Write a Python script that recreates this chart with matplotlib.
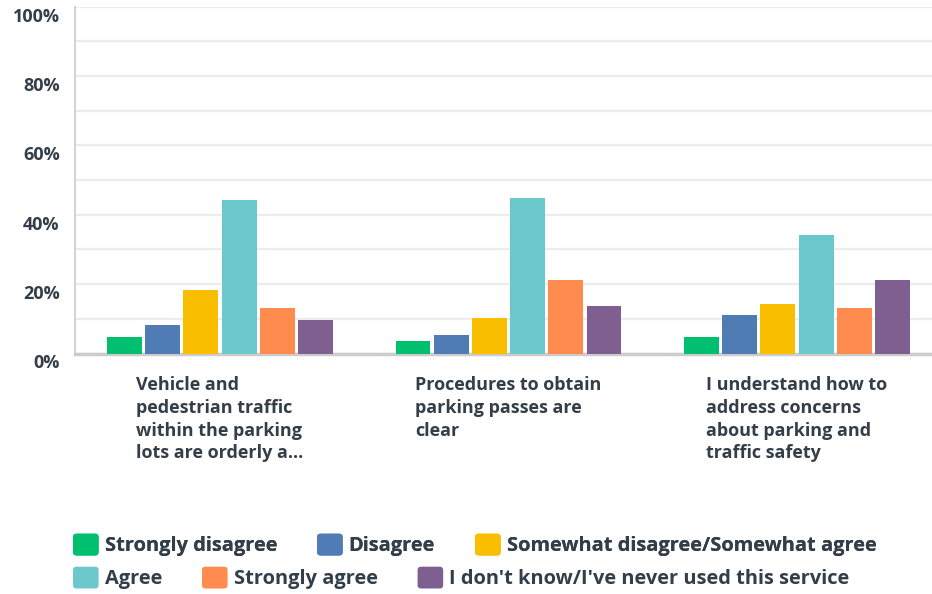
import matplotlib
matplotlib.use("Agg")
from matplotlib import pyplot as plt
from matplotlib.patches import Patch, FancyBboxPatch
from matplotlib.legend_handler import HandlerPatch
from matplotlib import transforms
import numpy as np

questions = [
    "Vehicle and\npedestrian traffic\nwithin the parking\nlots are orderly a...",
    "Procedures to obtain\nparking passes are\nclear",
    "I understand how to\naddress concerns\nabout parking and\ntraffic safety",
]
answers = [
    "Strongly disagree",
    "Disagree",
    "Somewhat disagree/Somewhat agree",
    "Agree",
    "Strongly agree",
    "I don't know/I've never used this service",
]
colors = ["#00bf6f", "#507cb6", "#f9be00", "#6bc8cd", "#ff8b4f", "#7f5f90"]

# percent of respondents, one list per answer (across the three questions)
strongly_disagree = [4.8, 3.6, 4.8]
disagree = [8.2, 5.3, 11.1]
somewhat = [18.3, 10.2, 14.3]
agree = [44.2, 44.8, 34.1]
strongly_agree = [13.1, 21.2, 13.1]
dont_know = [9.7, 13.7, 21.2]
series = [strongly_disagree, disagree, somewhat, agree, strongly_agree, dont_know]

yticks = [0, 20, 40, 60, 80, 100]
ytick_labels = ["0%", "20%", "40%", "60%", "80%", "100%"]

text_color = "#333e48"
plt.rcParams['font.family'] = ['Open Sans', 'DejaVu Sans']


class RoundSquare(HandlerPatch):
    # legend swatch with slightly rounded corners
    def create_artists(self, legend, orig_handle, xdescent, ydescent,
                       width, height, fontsize, trans):
        p = FancyBboxPatch((-xdescent, -ydescent), width, height,
                           boxstyle="round,pad=0,rounding_size=2.5",
                           facecolor=orig_handle.get_facecolor(),
                           edgecolor='none', transform=trans)
        return [p]


fig = plt.figure(figsize=(9.32, 5.94), dpi=100)
ax = fig.add_axes([75 / 932, 1 - 353.5 / 594, 857 / 932, 347 / 594])

x = np.arange(len(questions))
width = 0.121
step = 0.1324
for i, (vals, c) in enumerate(zip(series, colors)):
    ax.bar(x + (i - 2.5) * step, vals, width=width, color=c, zorder=3)

ax.set_xlim(-0.5026, 2.468)
ax.set_ylim(0, 100)
ax.set_yticks(yticks)
ax.set_yticklabels(ytick_labels)
ax.set_yticks(np.arange(10, 100, 20), minor=True)
ax.grid(axis='y', which='both', color='#ececec', linewidth=1.6, zorder=0)
ax.set_xticks([])
ax.tick_params(axis='y', which='both', length=0, pad=11, labelsize=13,
               labelcolor=text_color)
for lab in ax.get_yticklabels():
    lab.set_fontweight('bold')
    lab.set_transform(lab.get_transform() + transforms.ScaledTranslation(0, -8 / 100, fig.dpi_scale_trans))

for side in ['top', 'right']:
    ax.spines[side].set_visible(False)
ax.spines['left'].set_color('#d4d4d4')
ax.spines['left'].set_linewidth(1.5)
ax.spines['bottom'].set_color('#cccccc')
ax.spines['bottom'].set_linewidth(2.5)

# question labels: block centred under each group, lines left aligned
blend = transforms.blended_transform_factory(ax.transData, ax.transAxes)
for xi, q in zip(x, questions):
    ax.text(xi, -0.066, q, transform=blend, ha='center', va='top',
            multialignment='left', fontsize=13, fontweight='bold',
            color=text_color, linespacing=1.33)

# legend in two rows
def add_row(idx, y):
    handles = [Patch(facecolor=colors[i], edgecolor='none') for i in idx]
    leg = fig.legend(handles, [answers[i] for i in idx], loc='center left',
                     bbox_to_anchor=(65 / 932, y), ncol=len(idx), frameon=False,
                     fontsize=14.4, handlelength=1.28, handleheight=1.3,
                     handletextpad=0.3, columnspacing=2.0, borderaxespad=0,
                     handler_map={Patch: RoundSquare()})
    for t in leg.get_texts():
        t.set_color(text_color)
        t.set_fontweight('bold')
    return leg

leg1 = add_row([0, 1, 2], 1 - 545 / 594)
fig.add_artist(leg1)
add_row([3, 4, 5], 1 - 578 / 594)

plt.savefig("out.png", dpi=100)
